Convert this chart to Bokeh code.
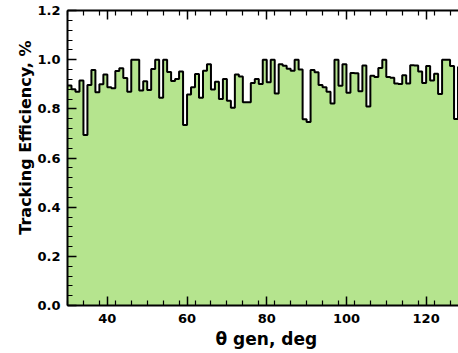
from bokeh.plotting import figure
from bokeh.models import (LinearAxis, Range1d, FixedTicker, PrintfTickFormatter, Title)
from bokeh.embed import file_html
from bokeh.resources import INLINE

# ---- data ----
bin_low = list(range(30, 129))          # 1-degree bins, lower edges
efficiency = [
    0.895, 0.880, 0.870, 0.915, 0.694, 0.897, 0.958, 0.867, 0.900, 0.940,   # 30-39
    0.888, 0.884, 0.954, 0.965, 0.925, 0.869, 1.000, 1.000, 0.875, 0.912,   # 40-49
    0.877, 0.962, 1.000, 0.845, 1.000, 0.950, 0.913, 0.921, 0.952, 0.734,   # 50-59
    0.858, 0.888, 0.942, 0.845, 0.955, 0.981, 0.879, 0.910, 0.840, 0.921,   # 60-69
    0.833, 0.804, 0.940, 0.932, 0.827, 0.827, 0.905, 0.921, 0.901, 1.000,   # 70-79
    0.908, 1.000, 0.862, 0.981, 0.975, 0.963, 0.955, 1.000, 0.960, 0.758,   # 80-89
    0.746, 0.958, 0.949, 0.897, 0.888, 0.869, 0.822, 1.000, 0.894, 0.981,   # 90-99
    0.865, 0.946, 0.945, 0.872, 0.976, 0.809, 0.935, 0.930, 0.966, 1.000,   # 100-109
    0.930, 0.926, 0.903, 0.901, 0.937, 0.903, 0.977, 0.976, 0.952, 0.905,   # 110-119
    0.974, 0.915, 0.943, 0.860, 1.000, 1.000, 0.974, 0.759, 0.970,          # 120-128
]
bin_width = 1
x_ticks = [40, 60, 80, 100, 120]
x_minor = list(range(30, 132, 4))
y_ticks = [0.0, 0.2, 0.4, 0.6, 0.8, 1.0, 1.2]
y_minor = [round(i * 0.04, 2) for i in range(31)]
x_title = "θ gen, deg"
y_title = "Tracking Efficiency, %"

FILL = "#b5e48e"
FONT = "DejaVu Sans"

step_x = bin_low + [bin_low[-1] + bin_width]
step_y = efficiency + [efficiency[-1]]

p = figure(width=458, height=353, x_range=Range1d(30, 128.12), y_range=Range1d(0, 1.2),
           output_backend="svg", toolbar_location=None,
           min_border_left=67, min_border_right=0, min_border_top=10, min_border_bottom=48,
           x_axis_location=None, y_axis_location=None)
p.grid.visible = False
p.outline_line_color = None
p.background_fill_color = "white"
p.border_fill_color = "white"

p.varea_step(x=step_x, y1=[0] * len(step_x), y2=step_y, step_mode="after",
             fill_color=FILL)
p.step(step_x, step_y, mode="after", line_color="black", line_width=2)

xticker = FixedTicker(ticks=x_ticks, minor_ticks=x_minor)
yticker = FixedTicker(ticks=y_ticks, minor_ticks=y_minor)


def style(ax, labels=True):
    ax.axis_line_width = 2
    ax.axis_line_color = "black"
    ax.major_tick_in = 9
    ax.major_tick_out = 0
    ax.minor_tick_in = 5
    ax.minor_tick_out = 0
    ax.major_tick_line_width = 1.5
    ax.minor_tick_line_width = 1.2
    ax.major_tick_line_color = "black"
    ax.minor_tick_line_color = "black"
    if labels:
        ax.major_label_text_font = FONT
        ax.major_label_text_font_style = "bold"
        ax.major_label_text_font_size = "13px"
        ax.major_label_text_color = "black"
    else:
        ax.major_label_text_font_size = "1px"
        ax.major_label_text_color = None
        ax.major_label_standoff = 0


xaxis = LinearAxis(ticker=xticker)
style(xaxis)
xaxis.major_label_standoff = 8
p.add_layout(xaxis, "below")

yaxis = LinearAxis(ticker=yticker, formatter=PrintfTickFormatter(format="%.1f"))
style(yaxis)
yaxis.major_label_standoff = 7
p.add_layout(yaxis, "left")

top_axis = LinearAxis(ticker=xticker)
style(top_axis, labels=False)
p.add_layout(top_axis, "above")

p.add_layout(Title(text=x_title, align="left", offset=148, standoff=3,
                   text_font=FONT, text_font_style="bold", text_font_size="17px",
                   text_color="black"), "below")
p.add_layout(Title(text=y_title, align="right", offset=30, standoff=0,
                   text_font=FONT, text_font_style="bold", text_font_size="16px",
                   text_color="black"), "left")

open("out.html", "w").write(file_html(p, INLINE))
